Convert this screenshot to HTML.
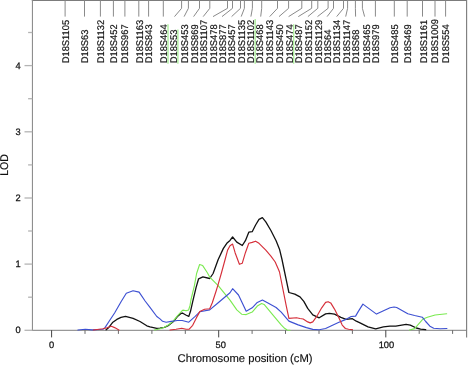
<!DOCTYPE html>
<html lang="en"><head><meta charset="utf-8"><title>LOD plot chromosome 18</title>
<style>html,body{margin:0;padding:0;background:#fff}body{width:469px;height:367px;overflow:hidden}svg{display:block}</style>
</head><body>
<svg width="469" height="367" viewBox="0 0 469 367" font-family="Liberation Sans, Arial, Helvetica, sans-serif" text-rendering="geometricPrecision">
<rect width="469" height="367" fill="#fff"/>
<g stroke="#9a9a9a" stroke-width="1" fill="none">
<path d="M31.8,0.5 H466.7" stroke="#7c7c7c"/>
<path d="M32.45,0 V330.8" stroke="#8e8e8e" stroke-width="1.1"/>
<path d="M31.8,330.35 H466.7" stroke="#989898" stroke-width="1.05"/>
<path d="M466.6,0 V337.6" stroke="#7e7e7e" stroke-width="1.15"/>
<path d="M24.5,330.3 H32.3" stroke="#b4b4b4" stroke-width="1.3"/>
<path d="M28.1,297.2 H32.3" stroke="#b4b4b4" stroke-width="1.3"/>
<path d="M24.5,264.1 H32.3" stroke="#b4b4b4" stroke-width="1.3"/>
<path d="M28.1,231.0 H32.3" stroke="#b4b4b4" stroke-width="1.3"/>
<path d="M24.5,198.0 H32.3" stroke="#b4b4b4" stroke-width="1.3"/>
<path d="M28.1,164.9 H32.3" stroke="#b4b4b4" stroke-width="1.3"/>
<path d="M24.5,131.8 H32.3" stroke="#b4b4b4" stroke-width="1.3"/>
<path d="M28.1,98.7 H32.3" stroke="#b4b4b4" stroke-width="1.3"/>
<path d="M24.5,65.6 H32.3" stroke="#b4b4b4" stroke-width="1.3"/>
<path d="M28.1,32.5 H32.3" stroke="#b4b4b4" stroke-width="1.3"/>
<path d="M51.6,330.2 V337.4" stroke="#444"/>
<path d="M85.0,330.2 V333.9" stroke="#6a6a6a"/>
<path d="M118.4,330.2 V333.9" stroke="#6a6a6a"/>
<path d="M151.9,330.2 V333.9" stroke="#6a6a6a"/>
<path d="M185.3,330.2 V333.9" stroke="#6a6a6a"/>
<path d="M218.7,330.2 V337.4" stroke="#444"/>
<path d="M252.1,330.2 V333.9" stroke="#6a6a6a"/>
<path d="M285.5,330.2 V333.9" stroke="#6a6a6a"/>
<path d="M319.0,330.2 V333.9" stroke="#6a6a6a"/>
<path d="M352.4,330.2 V333.9" stroke="#6a6a6a"/>
<path d="M385.8,330.2 V337.4" stroke="#444"/>
<path d="M419.2,330.2 V333.9" stroke="#6a6a6a"/>
<path d="M452.6,330.2 V333.9" stroke="#6a6a6a"/>
</g>
<g stroke="#8a8a8a" stroke-width="1" fill="none">
<path d="M65.1,0.5 V16.6"/>
<path d="M84.5,0.5 V16.6"/>
<path d="M100.4,0.5 V16.6"/>
<path d="M113.4,0.5 V16.6"/>
<path d="M124.9,0.5 V16.6"/>
<path d="M138.8,0.5 V16.6"/>
<path d="M148.6,0.5 V16.6"/>
<path d="M163.3,0.5 V16.6"/>
<path d="M181.6,0.5 V8.3 L174.5,16.6"/>
<path d="M188.4,0.5 V8.3 L184.1,16.6"/>
<path d="M199.5,0.5 V8.3 L193.6,16.6"/>
<path d="M209.8,0.5 V8.3 L203.2,16.6"/>
<path d="M227.5,0.5 V8.3 L213.0,16.6"/>
<path d="M232.5,0.5 V8.3 L222.0,16.6"/>
<path d="M240.5,0.5 V8.3 L231.6,16.6"/>
<path d="M244.4,0.5 V8.3 L241.2,16.6"/>
<path d="M252.4,0.5 V8.3 L250.9,16.6"/>
<path d="M261.7,0.5 V8.3 L260.7,16.6"/>
<path d="M277.5,0.5 V8.3 L269.7,16.6"/>
<path d="M288.6,0.5 V8.3 L279.0,16.6"/>
<path d="M301.8,0.5 V8.3 L288.6,16.6"/>
<path d="M311.7,0.5 V8.3 L298.3,16.6"/>
<path d="M317.8,0.5 V8.3 L307.9,16.6"/>
<path d="M328.1,0.5 V8.3 L317.5,16.6"/>
<path d="M333.5,0.5 V8.3 L327.1,16.6"/>
<path d="M343.5,0.5 V8.3 L336.7,16.6"/>
<path d="M347.6,0.5 V8.3 L345.7,16.6"/>
<path d="M355.4,0.5 V8.3 L355.6,16.6"/>
<path d="M362.4,0.5 V8.3 L364.6,16.6"/>
<path d="M375.4,0.5 V16.6"/>
<path d="M394.3,0.5 V16.6"/>
<path d="M407.2,0.5 V16.6"/>
<path d="M422.5,0.5 V16.6"/>
<path d="M435.0,0.5 V16.6"/>
<path d="M445.6,0.5 V16.6"/>
</g>
<g font-size="9.7" fill="#111" stroke="#111" stroke-width="0.18">
<text transform="translate(68.60,63.3) rotate(-90) scale(0.964,1)">D18S1105</text>
<text transform="translate(88.40,63.3) rotate(-90) scale(0.964,1)">D18S63</text>
<text transform="translate(103.70,63.3) rotate(-90) scale(0.964,1)">D18S1132</text>
<text transform="translate(117.00,63.3) rotate(-90) scale(0.964,1)">D18S452</text>
<text transform="translate(128.20,63.3) rotate(-90) scale(0.964,1)">D18S967</text>
<text transform="translate(142.60,63.3) rotate(-90) scale(0.964,1)">D18S1163</text>
<text transform="translate(152.20,63.3) rotate(-90) scale(0.964,1)">D18S843</text>
<text transform="translate(166.80,63.3) rotate(-90) scale(0.964,1)">D18S464</text>
<path d=" M168.0,63.8 V24.3" stroke="#a8ee98" stroke-width="1.3"/>
<text transform="translate(176.70,63.3) rotate(-90) scale(0.964,1)">D18S53</text>
<path d=" M177.9,63.8 V29.5" stroke="#a8ee98" stroke-width="1.3"/>
<text transform="translate(187.50,63.3) rotate(-90) scale(0.964,1)">D18S453</text>
<text transform="translate(197.70,63.3) rotate(-90) scale(0.964,1)">D18S869</text>
<text transform="translate(207.20,63.3) rotate(-90) scale(0.964,1)">D18S1107</text>
<text transform="translate(216.60,63.3) rotate(-90) scale(0.964,1)">D18S478</text>
<text transform="translate(225.60,63.3) rotate(-90) scale(0.964,1)">D18S877</text>
<text transform="translate(234.90,63.3) rotate(-90) scale(0.964,1)">D18S457</text>
<text transform="translate(244.80,63.3) rotate(-90) scale(0.964,1)">D18S1135</text>
<text transform="translate(254.00,63.3) rotate(-90) scale(0.964,1)">D18S1102</text>
<path d=" M255.2,63.8 V19.1" stroke="#a8ee98" stroke-width="1.3"/>
<text transform="translate(263.40,63.3) rotate(-90) scale(0.964,1)">D18S468</text>
<text transform="translate(273.40,63.3) rotate(-90) scale(0.964,1)">D18S1143</text>
<text transform="translate(282.50,63.3) rotate(-90) scale(0.964,1)">D18S450</text>
<text transform="translate(292.50,63.3) rotate(-90) scale(0.964,1)">D18S474</text>
<path d=" M293.7,63.8 V24.3" stroke="#a8ee98" stroke-width="1.3"/>
<text transform="translate(302.30,63.3) rotate(-90) scale(0.964,1)">D18S487</text>
<text transform="translate(312.40,63.3) rotate(-90) scale(0.964,1)">D18S1152</text>
<text transform="translate(321.80,63.3) rotate(-90) scale(0.964,1)">D18S1129</text>
<text transform="translate(330.70,63.3) rotate(-90) scale(0.964,1)">D18S64</text>
<text transform="translate(340.20,63.3) rotate(-90) scale(0.964,1)">D18S1134</text>
<text transform="translate(349.80,63.3) rotate(-90) scale(0.964,1)">D18S1147</text>
<text transform="translate(359.40,63.3) rotate(-90) scale(0.964,1)">D18S68</text>
<text transform="translate(369.60,63.3) rotate(-90) scale(0.964,1)">D18S465</text>
<text transform="translate(378.60,63.3) rotate(-90) scale(0.964,1)">D18S979</text>
<text transform="translate(397.70,63.3) rotate(-90) scale(0.964,1)">D18S485</text>
<text transform="translate(411.20,63.3) rotate(-90) scale(0.964,1)">D18S469</text>
<text transform="translate(426.80,63.3) rotate(-90) scale(0.964,1)">D18S1161</text>
<text transform="translate(438.30,63.3) rotate(-90) scale(0.964,1)">D18S1009</text>
<text transform="translate(449.00,63.3) rotate(-90) scale(0.964,1)">D18S554</text>
</g>
<g font-size="9.3" fill="#111" stroke="#111" stroke-width="0.25">
<text x="20.6" y="333.3" text-anchor="end">0</text>
<text x="20.6" y="267.1" text-anchor="end">1</text>
<text x="20.6" y="201.0" text-anchor="end">2</text>
<text x="20.6" y="134.8" text-anchor="end">3</text>
<text x="20.6" y="68.6" text-anchor="end">4</text>
<text x="51.6" y="348.1" text-anchor="middle">0</text>
<text x="220.7" y="348.1" text-anchor="middle">50</text>
<text x="386.4" y="348.1" text-anchor="middle">100</text>
</g>
<g font-size="11.25" fill="#111" stroke="#111" stroke-width="0.15">
<text x="245.1" y="362.2" text-anchor="middle">Chromosome position (cM)</text>
<text transform="translate(8.2,165) rotate(-90) scale(0.935,1)" text-anchor="middle">LOD</text>
</g>
<polyline points="106.1,329.8 108.8,327.4 112.5,322.6 116.8,319.4 121.0,317.4 125.5,316.4 133.1,318.4 140.0,321.5 146.8,325.8 150.0,326.9 156.8,328.3 160.0,328.2 164.4,327.3 168.7,325.3 173.1,321.8 177.4,316.6 181.0,313.4 182.4,313.0 185.8,315.0 188.8,316.4 190.5,311.3 192.7,301.7 196.1,287.4 198.6,278.8 202.9,276.8 209.7,278.5 213.1,273.5 218.2,259.5 223.4,248.4 226.8,243.3 230.0,240.4 232.6,237.0 236.8,242.1 242.3,245.5 245.4,240.7 248.8,232.2 252.2,231.7 255.6,225.0 259.0,219.4 262.4,217.7 265.8,221.9 270.9,230.5 276.1,240.7 279.5,249.2 282.0,259.5 284.6,272.0 287.1,283.9 288.9,292.5 294.8,294.2 300.0,296.9 303.8,301.4 307.7,308.4 312.8,314.8 319.2,317.8 325.6,313.9 329.4,313.3 334.5,314.2 340.9,317.4 346.1,319.3 352.4,318.7 356.3,321.2 360.0,322.9 368.0,326.9 375.7,328.8 383.4,326.9 390.0,326.2 395.8,326.2 406.1,324.4 410.3,325.2 416.3,328.0 420.6,329.1 425.7,329.7" fill="none" stroke="#111" stroke-width="1.3" stroke-linejoin="round" stroke-linecap="round"/>
<polyline points="154.5,330.0 157.0,329.5 160.0,328.8 164.4,327.2 168.7,324.8 173.1,321.2 177.4,315.8 181.8,311.0 182.9,310.1 186.1,310.7 188.6,310.0 190.1,305.2 190.9,300.0 194.4,285.6 196.6,273.5 199.6,264.5 202.7,265.6 207.2,272.5 209.7,277.1 218.2,285.6 230.0,300.1 236.8,309.9 241.9,314.3 246.2,314.6 252.2,312.1 257.3,306.1 261.6,303.6 264.1,304.4 272.6,314.6 281.2,324.9 284.6,328.3 287.1,330.0 290.0,330.2" fill="none" stroke="#7aea50" stroke-width="1.1" stroke-linejoin="round" stroke-linecap="round"/>
<polyline points="409.5,330.0 414.6,328.6 423.1,318.9 427.4,317.2 435.1,315.0 446.7,313.8" fill="none" stroke="#7aea50" stroke-width="1.1" stroke-linejoin="round" stroke-linecap="round"/>
<polyline points="77.9,330.0 85.3,329.3 92.3,329.9 102.9,329.3 105.0,327.6 109.3,321.0 114.6,313.0 121.2,301.5 126.3,293.3 133.1,290.8 139.1,292.1 145.1,301.0 150.0,307.4 156.8,316.5 160.0,318.9 162.6,321.3 166.1,322.2 171.3,321.4 177.4,320.5 182.2,320.5 188.8,322.2 194.9,316.6 199.8,311.8 209.7,309.9 218.2,302.7 230.0,292.8 232.6,288.7 238.5,295.0 246.2,311.2 252.2,307.8 257.3,302.4 262.4,300.1 267.5,302.7 276.1,307.5 281.2,312.1 288.9,321.1 298.2,324.9 306.4,327.6 312.8,329.4 319.2,329.7 325.6,328.5 332.0,325.4 338.4,322.5 344.8,319.9 351.2,316.5 355.6,316.1 358.2,311.6 362.9,304.1 376.5,314.1 390.0,307.8 394.1,307.0 396.7,307.5 407.8,313.8 414.6,315.5 422.3,317.2 425.7,321.5 429.9,326.2 433.7,328.3 440.2,328.8 446.9,328.5" fill="none" stroke="#3d50d2" stroke-width="1.15" stroke-linejoin="round" stroke-linecap="round"/>
<polyline points="93.3,330.0 102.9,328.8 107.0,327.7 111.4,326.3 114.6,327.6 118.9,329.9" fill="none" stroke="#d62f3a" stroke-width="1.15" stroke-linejoin="round" stroke-linecap="round"/>
<polyline points="170.0,330.0 176.0,329.3 181.8,328.3 186.1,329.2 189.2,329.2 192.7,325.3 196.6,317.4 199.8,311.6 204.6,309.2 209.7,308.7 212.3,302.7 216.2,290.8 218.3,283.9 221.7,272.0 225.1,259.5 227.6,250.1 230.0,245.8 232.6,244.1 235.1,252.7 239.4,264.3 242.3,263.2 245.4,252.7 248.8,243.3 252.2,242.4 255.6,241.2 259.0,243.3 265.8,250.1 270.9,256.1 275.2,262.0 278.6,269.7 279.5,272.0 282.9,289.1 286.3,306.1 288.9,318.4 296.5,317.7 300.0,318.5 303.2,319.0 307.7,321.9 310.2,322.9 312.8,321.9 316.6,316.7 321.7,307.8 325.6,302.4 328.1,301.7 330.7,302.9 334.5,309.1 338.4,316.7 342.2,325.1 345.4,328.5 348.6,329.3 352.4,329.6" fill="none" stroke="#d62f3a" stroke-width="1.15" stroke-linejoin="round" stroke-linecap="round"/>
</svg>
</body></html>
